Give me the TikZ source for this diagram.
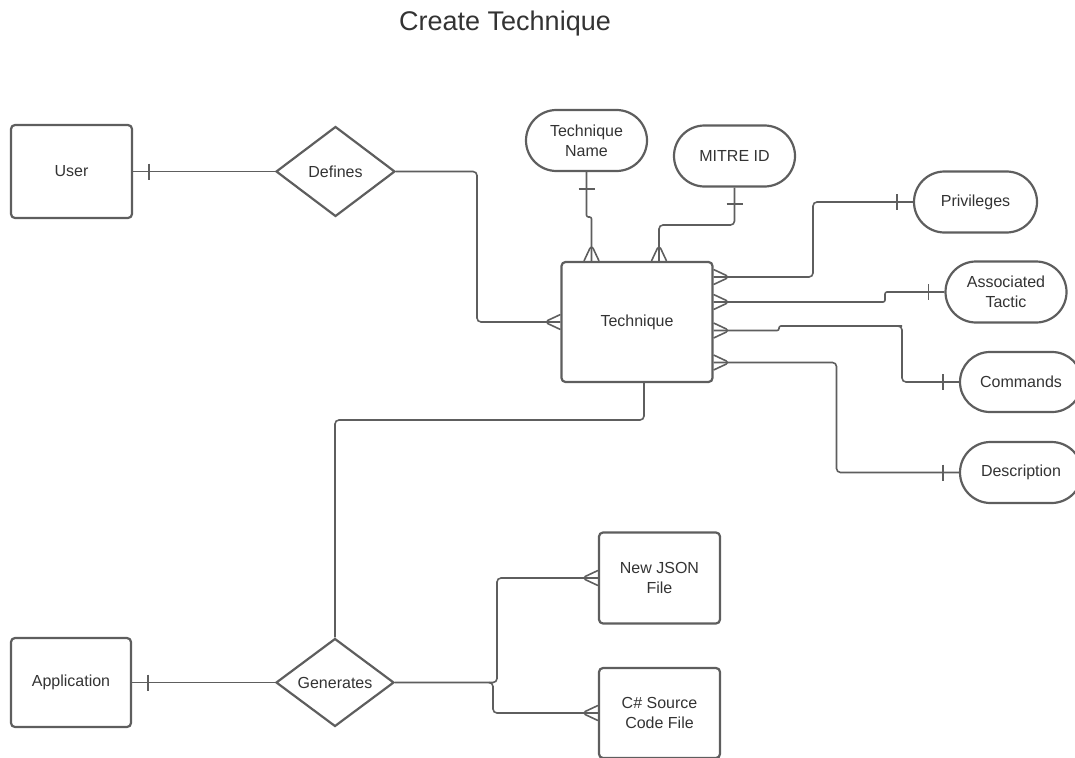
\documentclass[tikz,border=0pt]{standalone}
\usepackage{fontspec}
\setmainfont{Liberation Sans}
\usetikzlibrary{shapes.geometric,shapes.misc}
\definecolor{edge}{HTML}{5E5E5E}
\definecolor{ink}{HTML}{333333}
\tikzset{
  base/.style={draw=edge, line width=2.2pt, text=ink, inner sep=0pt, align=center,
    font=\fontsize{16}{20}\selectfont},
  entity/.style={base, rectangle, rounded corners=4pt},
  attr/.style={base, rounded rectangle},
  rel/.style={base, diamond},
  conn/.style={draw=edge, line width=1.6pt, rounded corners=4pt},
  jog/.style={draw=edge, line width=1.6pt, rounded corners=2pt},
  crowL/.pic={\draw[conn] (0,-7.5) -- (-16,0) -- (0,7.5);},
  crowR/.pic={\draw[conn] (0,-7.5) -- (16,0) -- (0,7.5);},
  crowU/.pic={\draw[conn] (-7.5,0) -- (0,-16) -- (7.5,0);},
  barV/.pic={\draw[conn] (0,-8) -- (0,8);},
  barH/.pic={\draw[conn] (-8,0) -- (8,0);},
}
\begin{document}
\begin{tikzpicture}[x=1pt, y=-1pt]
\useasboundingbox (0,0) rectangle (1075,757);
\clip (0,0) rectangle (1075,757);

% heading
\node[text=ink, font=\fontsize{27}{32}\selectfont, anchor=base, inner sep=0pt] (title) at (505,30.7) {Create Technique};

% entities
\node[entity, minimum width=121pt, minimum height=93pt] (user) at (71.5,171.5) {User};
\node[entity, minimum width=151pt, minimum height=120pt] (tech) at (637,322) {Technique};
\node[entity, minimum width=120pt, minimum height=89pt] (app) at (71,682.5) {Application};
\node[entity, minimum width=121pt, minimum height=91pt] (json) at (659.5,578) {New JSON\\File};
\node[entity, minimum width=121pt, minimum height=90pt] (csrc) at (659.5,713) {C\# Source\\Code File};

% relationships
\node[rel, minimum width=119pt, minimum height=90pt] (def) at (335.5,171.5) {Defines};
\node[rel, minimum width=118pt, minimum height=88pt] (gen) at (335,682.5) {Generates};

% attributes
\node[attr, minimum width=121pt, minimum height=61pt] (tname) at (586.5,140.5) {Technique\\Name};
\node[attr, minimum width=121pt, minimum height=61pt] (mitre) at (734.5,156) {MITRE ID};
\node[attr, minimum width=123pt, minimum height=61pt] (priv) at (975.5,202) {Privileges};
\node[attr, minimum width=121pt, minimum height=61pt] (assoc) at (1006,292) {Associated\\Tactic};
\node[attr, minimum width=122pt, minimum height=60pt] (cmds) at (1021,382) {Commands};
\node[attr, minimum width=122pt, minimum height=61pt] (desc) at (1021,472.5) {Description};

% User -- Defines -- Technique
\draw[conn] (user.east) -- (def.west);
\pic at ([xshift=16pt]user.east) {barV};
\draw[conn] (def.east) -- (477,171.5) -- (477,322) -- (tech.west);
\pic at (tech.west) {crowL};

% attributes above Technique
\draw[jog] (tname.south) -- (586.5,217) -- (591.5,217) -- ([xshift=-45.5pt]tech.north);
\pic at ([yshift=-17pt]tname.south) {barH};
\pic at ([xshift=-45.5pt]tech.north) {crowU};
\draw[conn] (mitre.south) -- (734.5,225) -- (659,225) -- ([xshift=22pt]tech.north);
\pic at ([yshift=-16.5pt]mitre.south) {barH};
\pic at ([xshift=22pt]tech.north) {crowU};

% attributes right of Technique
\draw[conn] ([yshift=45pt]tech.east) -- (813,277) -- (813,202) -- (priv.west);
\pic at ([yshift=45pt]tech.east) {crowR};
\pic at ([xshift=-16pt]priv.west) {barV};

\draw[jog] ([yshift=20pt]tech.east) -- (885,302) -- (885,292) -- (assoc.west);
\pic at ([yshift=20pt]tech.east) {crowR};
\pic at ([xshift=-16pt]assoc.west) {barV};

\draw[jog] ([yshift=-8.5pt]tech.east) -- (779,330.5) -- (779,326) -- (902,326);
\draw[conn] (898,326) -- (902,326) -- (902,382) -- (cmds.west);
\pic at ([yshift=-8.5pt]tech.east) {crowR};
\pic at ([xshift=-16pt]cmds.west) {barV};

\draw[conn] ([yshift=-40.5pt]tech.east) -- (836.5,362.5) -- (836.5,472.5) -- (desc.west);
\pic at ([yshift=-40.5pt]tech.east) {crowR};
\pic at ([xshift=-16pt]desc.west) {barV};

% Technique -- Generates
\draw[conn] ([xshift=7pt]tech.south) -- (644,420) -- (335,420) -- (gen.north);

% Application -- Generates -- output files
\draw[conn] (app.east) -- (gen.west);
\pic at ([xshift=16pt]app.east) {barV};
\draw[conn] (gen.east) -- (497,682.5) -- (497,578) -- (json.west);
\pic at (json.west) {crowL};
\draw[conn] (489,682.5) -- (493,682.5) -- (493,713) -- (csrc.west);
\pic at (csrc.west) {crowL};
\end{tikzpicture}
\end{document}
